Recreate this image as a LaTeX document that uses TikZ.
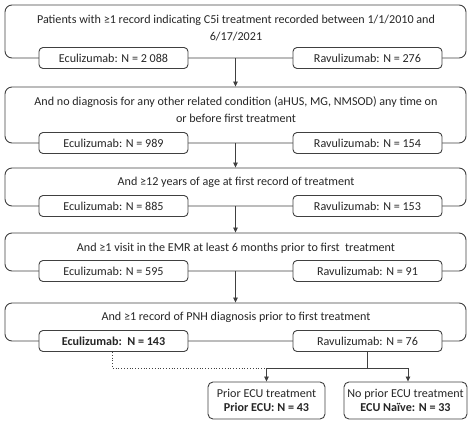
\documentclass[tikz,border=0pt]{standalone}
\usepackage{fontspec}
\setmainfont{Carlito}
\usetikzlibrary{arrows.meta,calc}
\definecolor{linec}{HTML}{404040}
\definecolor{textc}{HTML}{262626}
\begin{document}
\begin{tikzpicture}[x=1pt,y=-1pt,
  bigbox/.style={draw=linec, line width=0.9pt, rounded corners=7pt, minimum width=461pt, inner sep=0pt},
  subbox/.style={draw=linec, fill=white, line width=0.9pt, rounded corners=4pt, minimum width=149pt, minimum height=21pt, inner sep=0pt, text=textc, font=\fontsize{12.1}{14}\selectfont},
  endbox/.style={draw=linec, fill=white, line width=0.9pt, rounded corners=5pt, minimum height=37pt, inner sep=0pt, align=center, text=textc, font=\fontsize{12.1}{14}\selectfont},
  lbl/.style={inner sep=0pt, align=center, text=textc, font=\fontsize{12.1}{17}\selectfont},
  arr/.style={draw=linec, line width=0.8pt, -{Triangle[length=5pt,width=4.5pt]}},
  conn/.style={draw=linec, line width=0.8pt},
  dots/.style={draw=linec, line width=0.8pt, dotted}
]
\useasboundingbox (0,0) rectangle (474,424);
% box 1
\node[bigbox, minimum height=53pt] (b1) at (235.5,31.5) {};
\node[lbl] (t1) at (236,28.5) {Patients with ≥1 record indicating C5i treatment recorded between 1/1/2010 and\\6/17/2021};
\node[subbox] (e1) at (113.5,58) {Eculizumab: N = 2 088};
\node[subbox] (r1) at (367.5,58) {Ravulizumab: N = 276};
% box 2
\node[bigbox, minimum height=56pt] (b2) at (235.5,115) {};
\node[lbl] (t2) at (236,109.5) {And no diagnosis for any other related condition (aHUS, MG, NMSOD) any time on\\or before first treatment};
\node[subbox] (e2) at (113.5,143) {Eculizumab: N = 989};
\node[subbox] (r2) at (367.5,143) {Ravulizumab: N = 154};
% box 3
\node[bigbox, minimum height=38pt] (b3) at (235.5,187) {};
\node[lbl] (t3) at (236,182) {And ≥12 years of age at first record of treatment};
\node[subbox] (e3) at (113.5,206) {Eculizumab: N = 885};
\node[subbox] (r3) at (367.5,206) {Ravulizumab: N = 153};
% box 4
\node[bigbox, minimum height=38pt] (b4) at (235.5,252) {};
\node[lbl] (t4) at (236,248) {And ≥1 visit in the EMR at least 6 months prior to first\ \ treatment};
\node[subbox] (e4) at (113.5,271) {Eculizumab: N = 595};
\node[subbox] (r4) at (367.5,271) {Ravulizumab: N = 91};
% box 5
\node[bigbox, minimum height=38pt] (b5) at (235.5,322) {};
\node[lbl] (t5) at (236,317) {And ≥1 record of PNH diagnosis prior to first treatment};
\node[subbox] (e5) at (113.5,341) {\bfseries Eculizumab:\ \ N = 143};
\node[subbox] (r5) at (367.5,341) {Ravulizumab: N = 76};
% end boxes
\node[endbox, minimum width=117pt] (p) at (266.5,400.5) {Prior ECU treatment\\\bfseries Prior ECU: N = 43};
\node[endbox, minimum width=123pt] (n) at (405.5,400.5) {No prior ECU treatment\\\bfseries ECU Naïve: N = 33};
% arrows between stages
\draw[arr] (b1.south) -- (b2.north);
\draw[arr] (b2.south) -- (b3.north);
\draw[arr] (b3.south) -- (b4.north);
\draw[arr] (b4.south) -- (b5.north);
% split
\coordinate (split) at ($(r5.south |- 0,368)$);
\coordinate (sl) at ($(p.north |- split)$);
\coordinate (sr) at ($(n.north |- split)+(2.5,0)$);
\coordinate (nt) at ($(n.north)+(2.5,0)$);
\draw[conn] (r5.south) -- (split);
\draw[conn] (sl) -- (sr);
\draw[arr] (sl) -- (p.north);
\draw[arr] (sr) -- (nt);
\draw[dots] ($(e5.south)+(-1.5,0)$) |- (sl);
\end{tikzpicture}
\end{document}
